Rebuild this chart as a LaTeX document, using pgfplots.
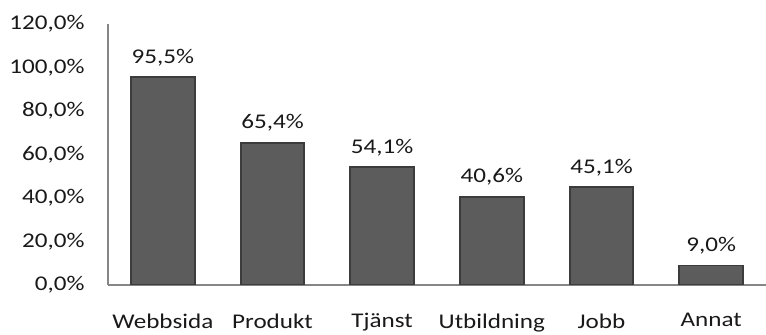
\documentclass[border=0pt]{standalone}
\usepackage{pgfplots}
\pgfplotsset{compat=1.18}
\usepackage{fontspec}
\setmainfont{Carlito}[FakeStretch=1.2]
\definecolor{barfill}{HTML}{5C5C5C}
\definecolor{baredge}{HTML}{3C3C3C}
\definecolor{axisgray}{HTML}{868686}
\begin{document}
\begin{tikzpicture}
\begin{axis}[
  scale only axis,
  width=658bp, height=261bp,
  xmin=-0.5, xmax=5.5,
  ymin=0, ymax=120,
  ytick={0,20,...,120},
  xtick={0,...,5},
  xticklabels={Webbsida,Produkt,Tjänst,Utbildning,Jobb,Annat},
  axis x line=bottom, axis y line=left,
  axis line style={axisgray, line width=1.2bp, -},
  major tick length=0pt,
  /pgf/number format/assume math mode=true,
  yticklabel={\pgfmathprintnumber[fixed,fixed zerofill,precision=1,use comma]{\tick}\%},
  yticklabel style={font=\fontsize{21}{24}\selectfont, xshift=-20bp, text=black!90},
  xticklabel style={font=\fontsize{21}{24}\selectfont, yshift=-25bp, text=black!90},
  ybar, bar width=0.58,
  nodes near coords={\pgfmathprintnumber[fixed,fixed zerofill,precision=1,use comma]{\pgfplotspointmeta}\%},
  nodes near coords style={font=\fontsize{21}{24}\selectfont, yshift=7bp, text=black!90},
]
\addplot[fill=barfill, draw=baredge, line width=1.8bp] coordinates {
 (0,95.5) (1,65.4) (2,54.1) (3,40.6) (4,45.1) (5,9.0)};
\end{axis}
\pgfresetboundingbox
\path (-108bp,-50bp) rectangle (658bp,285bp);
\end{tikzpicture}
\end{document}
